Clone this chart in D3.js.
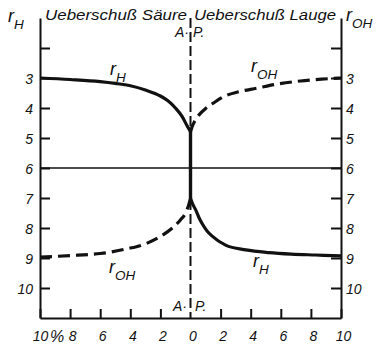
<!DOCTYPE html>
<html>
<head>
<meta charset="utf-8">
<script src="https://cdn.jsdelivr.net/npm/d3@7"></script>
<style>
  html, body { margin: 0; padding: 0; background: #fff; }
  svg { display: block; }
  text { font-family: "Liberation Sans", "DejaVu Sans", sans-serif; font-style: italic; fill: #111; }
</style>
</head>
<body>
<svg id="chart" width="379" height="346"></svg>
<script>
// Excess acid (left, negative side) and excess base (right) in percent
const xTickValues = [-10, -8, -6, -4, -2, 0, 2, 4, 6, 8, 10];
const xTickLabels = ["10", "8", "6", "4", "2", "0", "2", "4", "6", "8", "10"];
const yTickValues = [2, 3, 4, 5, 6, 7, 8, 9, 10];
const yTickLabels = ["", "3", "4", "5", "6", "7", "8", "9", "10"];

// r_H curve: acid branch, steep jump at the equivalence point, base branch
const rHAcidX = [-10, -8, -6, -5, -4, -3, -2, -1.5, -1, -0.55, -0.22, -0.08, 0];
const rHAcidV = [3.0, 3.05, 3.12, 3.18, 3.26, 3.4, 3.6, 3.76, 4.0, 4.29, 4.6, 4.72, 4.8];
const rHBaseX = [0, 0.08, 0.18, 0.33, 0.55, 0.78, 1.1, 1.44, 2.33, 3.67, 5.2, 6.7, 8.3, 10];
const rHBaseV = [7.0, 7.12, 7.24, 7.38, 7.64, 7.86, 8.1, 8.27, 8.57, 8.73, 8.82, 8.87, 8.9, 8.93];

// r_OH curve (dashed): base branch above, acid branch below
const rOHBaseX = [0, 0.11, 0.3, 0.67, 1.0, 1.33, 2.2, 3.2, 4.4, 5.8, 7.3, 8.7, 10];
const rOHBaseV = [4.8, 4.62, 4.42, 4.17, 4.02, 3.9, 3.62, 3.46, 3.34, 3.2, 3.1, 3.04, 3.0];
const rOHAcidX = [-10, -8, -6, -5.4, -4.3, -3, -1.9, -1.2, -0.67, -0.33, -0.1, 0];
const rOHAcidV = [8.97, 8.92, 8.85, 8.81, 8.7, 8.53, 8.25, 8.0, 7.73, 7.5, 7.2, 7.0];

const svg = d3.select("#chart");
const x = d3.scaleLinear().domain([-10, 10]).range([40, 341]);
const y = d3.scaleLinear().domain([1, 11]).range([18, 318]);

const zip = (xs, vs) => xs.map((d, i) => [d, vs[i]]);
const line = d3.line().x(d => x(d[0])).y(d => y(d[1])).curve(d3.curveMonotoneX);

// Axes
const axisStyle = g => {
  g.select(".domain").attr("stroke", "#111").attr("stroke-width", 2);
  g.selectAll(".tick line").attr("stroke", "#111").attr("stroke-width", 2);
  g.selectAll(".tick text").attr("font-size", 14).attr("fill", "#111")
    .attr("font-family", "Liberation Sans, DejaVu Sans, sans-serif")
    .attr("font-style", "italic");
};

const leftAxis = d3.axisLeft(y).tickValues(yTickValues)
  .tickFormat((d, i) => yTickLabels[i]).tickSizeInner(-10).tickSizeOuter(0).tickPadding(7);
svg.append("g").attr("transform", `translate(${x(-10)},0)`).call(leftAxis).call(axisStyle)
  .selectAll(".tick text").attr("dy", "0.4em");

const rightAxis = d3.axisRight(y).tickValues(yTickValues)
  .tickFormat((d, i) => yTickLabels[i]).tickSizeInner(-10).tickSizeOuter(0).tickPadding(5);
svg.append("g").attr("transform", `translate(${x(10)},0)`).call(rightAxis).call(axisStyle)
  .selectAll(".tick text").attr("dy", "0.4em");

const bottomAxis = d3.axisBottom(x).tickValues(xTickValues)
  .tickFormat((d, i) => xTickLabels[i]).tickSizeInner(-9).tickSizeOuter(0).tickPadding(13);
const gb = svg.append("g").attr("transform", `translate(0,${y(11)})`).call(bottomAxis).call(axisStyle);
gb.selectAll(".tick line").filter(d => d === 0).remove();
gb.selectAll(".tick text").attr("dx", 2);
gb.selectAll(".tick text").filter((d, i) => i === 0).attr("dx", 0);

// percent sign next to the left end of the x axis
svg.append("text").attr("x", 50).attr("y", 342).attr("font-size", 16).text("%");

// neutral line at 6
svg.append("line")
  .attr("x1", x(-10)).attr("x2", x(10)).attr("y1", y(6)).attr("y2", y(6))
  .attr("stroke", "#111").attr("stroke-width", 1.6);

// equivalence point (A. P.) line
svg.append("line")
  .attr("x1", x(0)).attr("x2", x(0)).attr("y1", y(1)).attr("y2", y(11))
  .attr("stroke", "#111").attr("stroke-width", 2).attr("stroke-dasharray", "10,4");

// r_OH dashed curves
[zip(rOHBaseX, rOHBaseV), zip(rOHAcidX, rOHAcidV)].forEach(pts => {
  svg.append("path").datum(pts).attr("d", line)
    .attr("fill", "none").attr("stroke", "#111").attr("stroke-width", 3.2)
    .attr("stroke-dasharray", "12,6");
});

// r_H solid curve
svg.append("path").datum(zip(rHAcidX, rHAcidV)).attr("d", line)
  .attr("fill", "none").attr("stroke", "#111").attr("stroke-width", 3.2);
svg.append("path").datum(zip(rHBaseX, rHBaseV)).attr("d", line)
  .attr("fill", "none").attr("stroke", "#111").attr("stroke-width", 3.2);
// steep jump at the equivalence point
svg.append("line")
  .attr("x1", x(0)).attr("x2", x(0))
  .attr("y1", y(rHAcidV[rHAcidV.length - 1])).attr("y2", y(rHBaseV[0]))
  .attr("stroke", "#111").attr("stroke-width", 3.4);

// Labels r with subscript
function rLabel(px, py, sub, size) {
  const t = svg.append("text").attr("x", px).attr("y", py).attr("font-size", size);
  t.append("tspan").text("r");
  t.append("tspan").attr("dy", size * 0.38).attr("font-size", size * 0.75).text(sub);
}
rLabel(8, 22, "H", 18);
rLabel(346, 21, "OH", 18);
rLabel(110, 75, "H", 18);
rLabel(251, 72, "OH", 18);
rLabel(109, 273, "OH", 18);
rLabel(253, 267, "H", 18);

// headers
svg.append("text").attr("x", 45).attr("y", 20).attr("font-size", 15)
  .attr("textLength", 142).attr("lengthAdjust", "spacingAndGlyphs").text("Ueberschuß Säure");
svg.append("text").attr("x", 194).attr("y", 20).attr("font-size", 15)
  .attr("textLength", 142).attr("lengthAdjust", "spacingAndGlyphs").text("Ueberschuß Lauge");

// A. P. marks at both ends of the equivalence line
svg.append("text").attr("x", 175).attr("y", 37).attr("font-size", 14).text("A·");
svg.append("text").attr("x", 193).attr("y", 37).attr("font-size", 14).text("P.");
svg.append("text").attr("x", 173).attr("y", 311).attr("font-size", 14).text("A·");
svg.append("text").attr("x", 195).attr("y", 311).attr("font-size", 14).text("P.");
</script>
</body>
</html>
